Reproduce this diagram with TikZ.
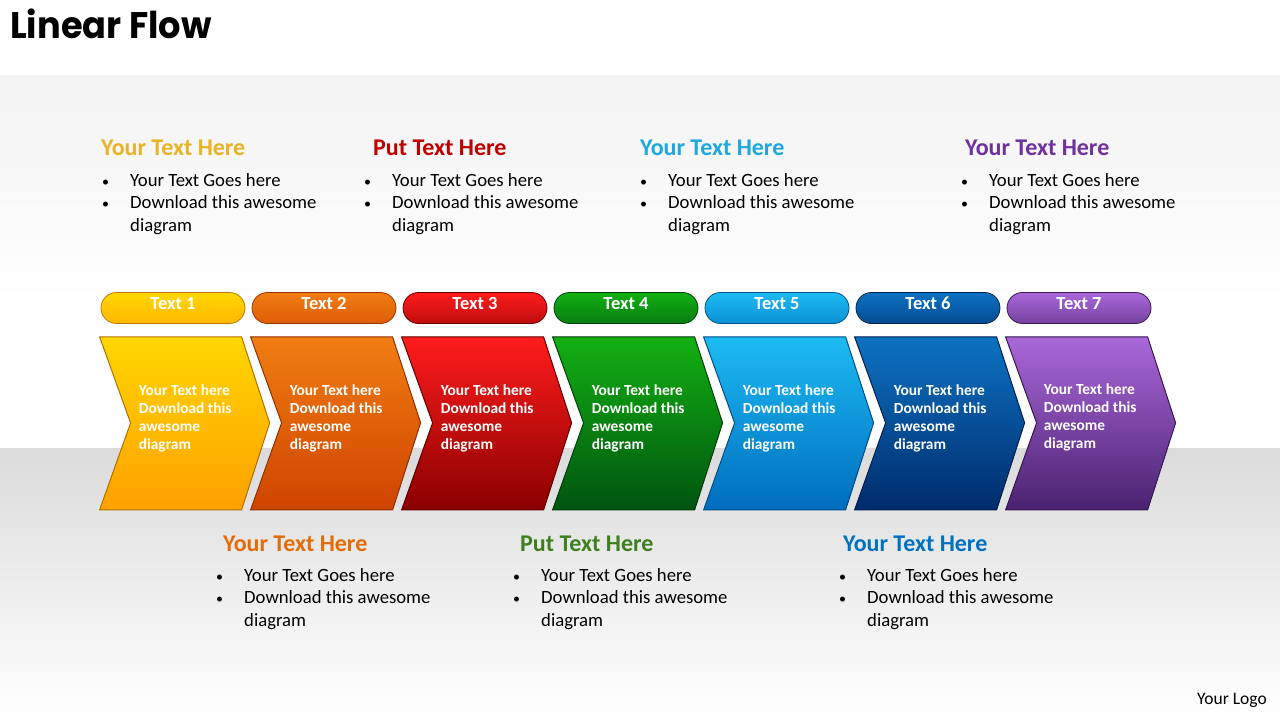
\documentclass[tikz,border=0pt]{standalone}
\usepackage{fontspec}
\setmainfont{Carlito}
\newfontfamily\titlefont[FakeStretch=0.95]{Poppins}
\usetikzlibrary{calc,shapes}

\definecolor{c1a}{HTML}{FFD600}\definecolor{c1b}{HTML}{FFA000}
\definecolor{c2a}{HTML}{F07D12}\definecolor{c2b}{HTML}{CF4400}
\definecolor{c3a}{HTML}{FF1C1C}\definecolor{c3b}{HTML}{8A0000}
\definecolor{c4a}{HTML}{12B012}\definecolor{c4b}{HTML}{005410}
\definecolor{c5a}{HTML}{1CBBF3}\definecolor{c5b}{HTML}{006DBE}
\definecolor{c6a}{HTML}{0C72C2}\definecolor{c6b}{HTML}{002C6C}
\definecolor{c7a}{HTML}{AA68DA}\definecolor{c7b}{HTML}{4A2270}
\definecolor{hyellow}{HTML}{E8B425}
\definecolor{hred}{HTML}{C00000}
\definecolor{hcyan}{HTML}{1FA8E0}
\definecolor{hpurple}{HTML}{7030A0}
\definecolor{horange}{HTML}{E36C09}
\definecolor{hgreen}{HTML}{3F7F1F}
\definecolor{hblue}{HTML}{0070C0}
\newcommand{\blt}{\llap{{\fontsize{14}{14}\selectfont\textbullet}\hspace{21pt}}}

\begin{document}
\begin{tikzpicture}[x=1pt,y=-1pt,
pill/.style={rectangle, rounded corners=15.5pt, minimum width=144pt, minimum height=31pt, inner sep=0pt, top color=c#1a, bottom color=c#1b!55!c#1a, draw=c#1b!75!black, line width=0.8pt, font=\bfseries\fontsize{18.5}{20}\selectfont, text=white, text height=12pt, text depth=10pt},
chev/.style={top color=c#1a, bottom color=c#1b, draw=c#1b!70!black, line width=1pt, line join=miter},
ctext/.style={inner sep=0pt, align=left, text=white, font=\bfseries\fontsize{15.4}{17.7}\selectfont},
head/.style={anchor=base west, inner sep=0pt, font=\bfseries\fontsize{24}{28}\selectfont},
blist/.style={anchor=north west, inner sep=0pt, align=left, font=\fontsize{18.7}{22.5}\selectfont}]
	\useasboundingbox (0,0) rectangle (1280,720);
	% background
	\fill[white] (0,0) rectangle (1280,720);
	\shade[top color=black!5, bottom color=white] (0,75) rectangle (1280,300);
	\shade[top color=black!14, bottom color=white] (0,448) rectangle (1280,720);

	\node[anchor=base west, inner sep=0pt, font=\titlefont\bfseries\fontsize{37}{44}\selectfont] (title) at (10,38) {Linear Flow};

	% pills
	\node[pill=1] at (173,308) (p1) {Text 1};
	\node[pill=2,right] at ([xshift=6.2pt]p1.east) (p2) {Text 2};
	\node[pill=3,right] at ([xshift=6.2pt]p2.east) (p3) {Text 3};
	\node[pill=4,right] at ([xshift=6.2pt]p3.east) (p4) {Text 4};
	\node[pill=5,right] at ([xshift=6.2pt]p4.east) (p5) {Text 5};
	\node[pill=6,right] at ([xshift=6.2pt]p5.east) (p6) {Text 6};
	\node[pill=7,right] at ([xshift=6.2pt]p6.east) (p7) {Text 7};

	% chevrons
	\path[chev=1] ([xshift=-1pt,yshift=-13pt]p1.south west) -- ++(142,0) -- ++(28,86) -- ++(-28,87) -- ++(-142,0) -- ++(31,-87) -- cycle;
	\path[chev=2] ([xshift=-1pt,yshift=-13pt]p2.south west) -- ++(142,0) -- ++(28,86) -- ++(-28,87) -- ++(-142,0) -- ++(31,-87) -- cycle;
	\path[chev=3] ([xshift=-1pt,yshift=-13pt]p3.south west) -- ++(142,0) -- ++(28,86) -- ++(-28,87) -- ++(-142,0) -- ++(31,-87) -- cycle;
	\path[chev=4] ([xshift=-1pt,yshift=-13pt]p4.south west) -- ++(142,0) -- ++(28,86) -- ++(-28,87) -- ++(-142,0) -- ++(31,-87) -- cycle;
	\path[chev=5] ([xshift=-1pt,yshift=-13pt]p5.south west) -- ++(142,0) -- ++(28,86) -- ++(-28,87) -- ++(-142,0) -- ++(31,-87) -- cycle;
	\path[chev=6] ([xshift=-1pt,yshift=-13pt]p6.south west) -- ++(142,0) -- ++(28,86) -- ++(-28,87) -- ++(-142,0) -- ++(31,-87) -- cycle;
	\path[chev=7] ([xshift=-1pt,yshift=-13pt]p7.south west) -- ++(142,0) -- ++(28,86) -- ++(-28,87) -- ++(-142,0) -- ++(31,-87) -- cycle;

	\node[ctext,below right] at ([xshift=38pt,yshift=-61pt]p1.south west) (t1) {Your Text here\\Download this\\awesome\\diagram};
	\node[ctext,below right] at ([xshift=38pt,yshift=-61pt]p2.south west) (t2) {Your Text here\\Download this\\awesome\\diagram};
	\node[ctext,below right] at ([xshift=38pt,yshift=-61pt]p3.south west) (t3) {Your Text here\\Download this\\awesome\\diagram};
	\node[ctext,below right] at ([xshift=38pt,yshift=-61pt]p4.south west) (t4) {Your Text here\\Download this\\awesome\\diagram};
	\node[ctext,below right] at ([xshift=38pt,yshift=-61pt]p5.south west) (t5) {Your Text here\\Download this\\awesome\\diagram};
	\node[ctext,below right] at ([xshift=38pt,yshift=-61pt]p6.south west) (t6) {Your Text here\\Download this\\awesome\\diagram};
	\node[ctext,below right] at ([xshift=37pt,yshift=-60pt]p7.south west) (t7) {Your Text here\\Download this\\awesome\\diagram};

	% text blocks above
	\node[head,text=hyellow] at (101,155) (h1) {Your Text Here};
	\node[blist] at (130,173) (l1) {\blt Your Text Goes here\\\blt Download this awesome\\diagram};
	\node[head,text=hred] at (373,155) (h2) {Put Text Here};
	\node[blist] at (392,173) (l2) {\blt Your Text Goes here\\\blt Download this awesome\\diagram};
	\node[head,text=hcyan] at (640,155) (h3) {Your Text Here};
	\node[blist] at (668,173) (l3) {\blt Your Text Goes here\\\blt Download this awesome\\diagram};
	\node[head,text=hpurple] at (965,155) (h4) {Your Text Here};
	\node[blist] at (989,173) (l4) {\blt Your Text Goes here\\\blt Download this awesome\\diagram};

	% text blocks below
	\node[head,text=horange] at (223,551) (h5) {Your Text Here};
	\node[blist] at (244,568) (l5) {\blt Your Text Goes here\\\blt Download this awesome\\diagram};
	\node[head,text=hgreen] at (520,551) (h6) {Put Text Here};
	\node[blist] at (541,568) (l6) {\blt Your Text Goes here\\\blt Download this awesome\\diagram};
	\node[head,text=hblue] at (843,551) (h7) {Your Text Here};
	\node[blist] at (867,568) (l7) {\blt Your Text Goes here\\\blt Download this awesome\\diagram};

	\node[anchor=base east, inner sep=0pt, font=\fontsize{17.5}{20}\selectfont] at (1267,704) (logo) {Your Logo};
\end{tikzpicture}
\end{document}
